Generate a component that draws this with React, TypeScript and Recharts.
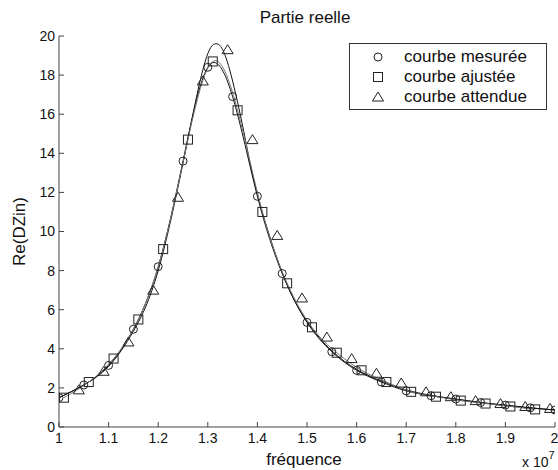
import React from 'react';
import { LineChart, Line, XAxis, YAxis, Legend, Label } from 'recharts';

// frequencies are in units of 1e7 Hz (axis shows "x 10^7")
const measuredFreq = [1.0, 1.05, 1.1, 1.15, 1.2, 1.25, 1.3, 1.35, 1.4, 1.45, 1.5, 1.55, 1.6, 1.65, 1.7, 1.75, 1.8, 1.85, 1.9, 1.95, 2.0];
const measuredRe = [1.5, 2.15, 3.15, 5.0, 8.2, 13.6, 18.4, 16.9, 11.8, 7.85, 5.35, 3.85, 2.9, 2.3, 1.85, 1.6, 1.43, 1.25, 1.12, 0.98, 0.87];

const fittedFreq = [1.01, 1.06, 1.11, 1.16, 1.21, 1.26, 1.31, 1.36, 1.41, 1.46, 1.51, 1.56, 1.61, 1.66, 1.71, 1.76, 1.81, 1.86, 1.91, 1.96];
const fittedRe = [1.5, 2.3, 3.5, 5.5, 9.1, 14.7, 18.7, 16.2, 11.0, 7.35, 5.1, 3.8, 2.9, 2.3, 1.8, 1.55, 1.35, 1.2, 1.05, 0.9];

// triangle markers of the expected curve
const expectedFreq = [1.04, 1.09, 1.14, 1.19, 1.24, 1.29, 1.34, 1.39, 1.44, 1.49, 1.54, 1.59, 1.64, 1.69, 1.74, 1.79, 1.84, 1.89, 1.94, 1.99];
const expectedRe = [1.9, 2.85, 4.35, 7.0, 11.75, 17.7, 19.3, 14.7, 9.8, 6.6, 4.6, 3.5, 2.75, 2.25, 1.8, 1.55, 1.35, 1.2, 1.05, 0.95];

// the drawn expected curve (it does not pass through the triangles)
const expectedLineFreq = [1.0, 1.05, 1.1, 1.15, 1.2, 1.25, 1.28, 1.3, 1.315, 1.33, 1.35, 1.375, 1.4, 1.45, 1.5, 1.55, 1.6, 1.65, 1.7, 1.75, 1.8, 1.85, 1.9, 1.95, 2.0];
const expectedLineRe = [1.5, 2.15, 3.1, 4.9, 8.0, 13.5, 17.2, 19.1, 19.6, 19.3, 17.7, 14.8, 11.9, 7.9, 5.4, 3.9, 2.95, 2.35, 1.9, 1.62, 1.42, 1.25, 1.1, 0.98, 0.87];

const xTicks = [1, 1.1, 1.2, 1.3, 1.4, 1.5, 1.6, 1.7, 1.8, 1.9, 2];
const yTicks = [0, 2, 4, 6, 8, 10, 12, 14, 16, 18, 20];

const seriesNames = ['courbe mesurée', 'courbe ajustée', 'courbe attendue'];

const toPoints = (xs: number[], ys: number[]) => xs.map((f, i) => ({ f, re: ys[i] }));

const measured = toPoints(measuredFreq, measuredRe);
const fitted = toPoints(fittedFreq, fittedRe);
const expected = toPoints(expectedFreq, expectedRe);
const expectedLine = toPoints(expectedLineFreq, expectedLineRe);

const MARK = '#222';
const FONT = 'Arial, "Liberation Sans", sans-serif';

const circleDot = (p: any) =>
  p.cx == null ? <g key={`c${p.index}`} /> : (
    <circle key={`c${p.index}`} cx={p.cx} cy={p.cy} r={4} fill="none" stroke={MARK} strokeWidth={1} />
  );

const squareDot = (p: any) =>
  p.cx == null ? <g key={`s${p.index}`} /> : (
    <rect key={`s${p.index}`} x={p.cx - 4.5} y={p.cy - 4.5} width={9} height={9} fill="none" stroke={MARK} strokeWidth={1} />
  );

const triangleDot = (p: any) =>
  p.cx == null ? <g key={`t${p.index}`} /> : (
    <polygon
      key={`t${p.index}`}
      points={`${p.cx},${p.cy - 5} ${p.cx + 5.5},${p.cy + 4} ${p.cx - 5.5},${p.cy + 4}`}
      fill="none"
      stroke={MARK}
      strokeWidth={1}
    />
  );

const legendMarker = (i: number) => {
  if (i === 0) return <circle cx={8} cy={8} r={4} fill="none" stroke={MARK} />;
  if (i === 1) return <rect x={3.5} y={3.5} width={9} height={9} fill="none" stroke={MARK} />;
  return <polygon points="8,3 13.5,12 2.5,12" fill="none" stroke={MARK} />;
};

const LegendBox = () => (
  <div
    style={{
      width: 198,
      height: 67,
      boxSizing: 'border-box',
      border: '1px solid #333',
      background: '#fff',
      fontFamily: FONT,
      fontSize: 17,
      color: '#111',
      paddingTop: 3,
    }}
  >
    {seriesNames.map((name, i) => (
      <div key={name} style={{ display: 'flex', alignItems: 'center', height: 20 }}>
        <svg width={16} height={16} style={{ marginLeft: 20, marginRight: 18 }}>
          {legendMarker(i)}
        </svg>
        <span>{name}</span>
      </div>
    ))}
  </div>
);

const XLabel = (props: any) => {
  const { x, y, width } = props.viewBox;
  return (
    <g>
      <text x={x + width / 2 - 3} y={y + 38} textAnchor="middle" fontFamily={FONT} fontSize={17} fill="#111">
        fréquence
      </text>
      <text x={x + width - 33} y={y + 40} fontFamily={FONT} fontSize={14} fill="#111">
        x 10
        <tspan dy={-8} fontSize={11}>7</tspan>
      </text>
    </g>
  );
};

const YLabel = (props: any) => {
  const { y, height } = props.viewBox;
  const cx = 25;
  const cy = y + height / 2;
  return (
    <text
      x={cx}
      y={cy}
      transform={`rotate(-90, ${cx}, ${cy})`}
      textAnchor="middle"
      fontFamily={FONT}
      fontSize={17}
      fill="#111"
    >
      Re(DZin)
    </text>
  );
};

export default function App() {
  return (
    <div style={{ position: 'absolute', left: 0, top: 0, width: 558, height: 470, background: '#fff' }}>
      <div
        style={{
          position: 'absolute',
          left: 0,
          top: 8,
          width: 610,
          textAlign: 'center',
          fontFamily: FONT,
          fontSize: 17,
          color: '#111',
          lineHeight: '20px',
        }}
      >
        Partie reelle
      </div>
      <LineChart width={558} height={470} margin={{ top: 36, right: 3, bottom: 0, left: 0 }}>
        <XAxis
          type="number"
          dataKey="f"
          domain={[1, 2]}
          ticks={xTicks}
          allowDataOverflow
          height={43}
          tickSize={-5}
          tickMargin={11}
          stroke="#444"
          tick={{ fill: '#111', fontSize: 14, fontFamily: FONT }}
          tickFormatter={(v: number) => String(Math.round(v * 10) / 10)}
        >
          <Label content={XLabel} />
        </XAxis>
        <YAxis
          type="number"
          domain={[0, 20]}
          ticks={yTicks}
          allowDataOverflow
          width={59}
          tickSize={-5}
          tickMargin={9}
          stroke="#444"
          tick={{ fill: '#111', fontSize: 14, fontFamily: FONT }}
        >
          <Label content={YLabel} />
        </YAxis>
        <Legend
          layout="vertical"
          align="center"
          verticalAlign="middle"
          wrapperStyle={{ left: 349, top: 43, width: 198, height: 67 }}
          content={LegendBox}
        />
        <Line
          data={expectedLine}
          dataKey="re"
          name="expected-line"
          legendType="none"
          type="natural"
          stroke="#111"
          strokeWidth={1}
          dot={false}
          activeDot={false}
          isAnimationActive={false}
        />
        <Line
          data={measured}
          dataKey="re"
          name={seriesNames[0]}
          type="natural"
          stroke="#111"
          strokeWidth={1}
          dot={circleDot}
          activeDot={false}
          isAnimationActive={false}
        />
        <Line
          data={fitted}
          dataKey="re"
          name={seriesNames[1]}
          type="natural"
          stroke="#777"
          strokeWidth={1}
          dot={squareDot}
          activeDot={false}
          isAnimationActive={false}
        />
        <Line
          data={expected}
          dataKey="re"
          name={seriesNames[2]}
          type="linear"
          stroke="none"
          dot={triangleDot}
          activeDot={false}
          isAnimationActive={false}
        />
      </LineChart>
    </div>
  );
}
